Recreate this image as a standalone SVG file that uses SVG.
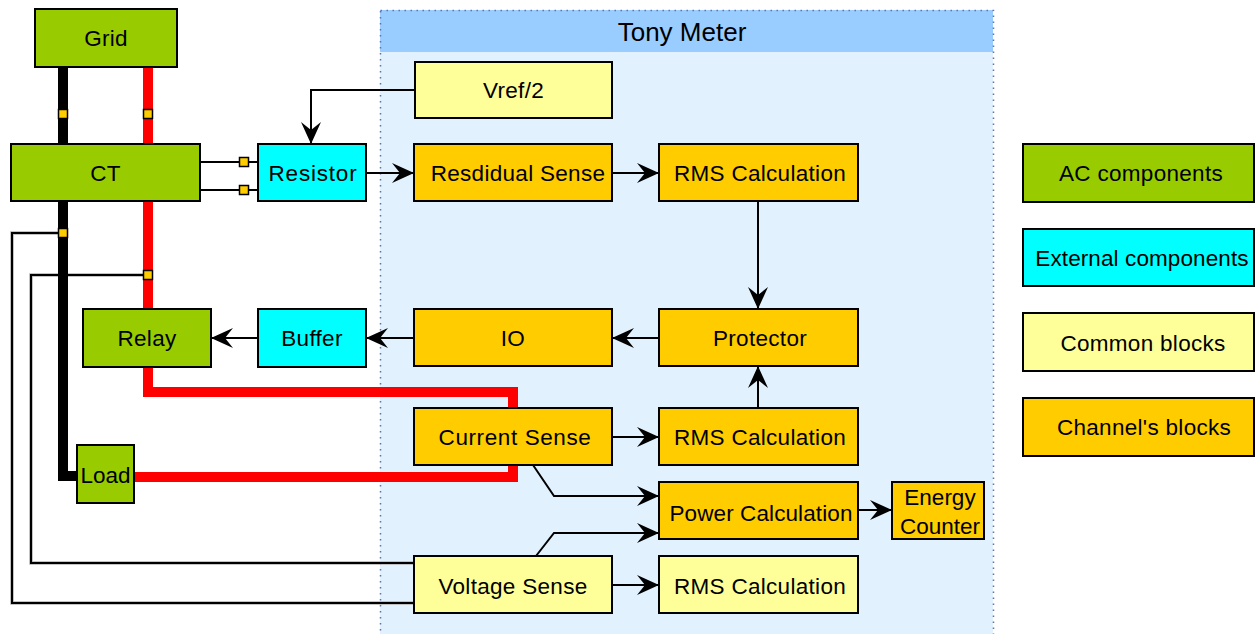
<svg xmlns="http://www.w3.org/2000/svg" width="1257" height="634" viewBox="0 0 1257 634">
<style>
text{font-family:"Liberation Sans",Arial,sans-serif;font-size:22.5px;fill:#000;text-anchor:middle;letter-spacing:0.3px}
.box{stroke:#000;stroke-width:2}
.ac{fill:#99CC00}.ext{fill:#00FFFF}.com{fill:#FFFF99}.ch{fill:#FFCC00}
.wire{fill:none;stroke-width:10;stroke-linejoin:miter;stroke-linecap:butt}
.blk{stroke:#000}.red{stroke:#FF0000}
.ln{fill:none;stroke:#000;stroke-width:2}
.arr{fill:none;stroke:#000;stroke-width:2;marker-end:url(#ah)}
.halo{fill:none;stroke:#b0b0b0;stroke-width:3.5}
.sq{fill:#FFCC00;stroke:#000;stroke-width:1.5}
</style>
<defs>
<marker id="ah" markerUnits="userSpaceOnUse" viewBox="-23 -11 25 22" markerWidth="25" markerHeight="22" refX="0" refY="0" orient="auto">
<path d="M0,0 L-22,-10 L-14,0 L-22,10 Z" fill="#000"/>
</marker>
</defs>

<g id="tony-meter">
<rect x="380" y="10" width="613" height="630" fill="#E1F1FD"/>
<rect x="380" y="10" width="613" height="42" fill="#99CCFF"/>
<rect x="380.5" y="10.5" width="613" height="630" fill="none" stroke="#6870A8" stroke-width="1.5" stroke-dasharray="1.5,4.5"/>
<text x="682" y="41" style="font-size:26px;letter-spacing:0">Tony Meter</text>
</g>

<g id="connectors">
<path class="halo" d="M59,233 H12 V603 H414"/>
<path class="ln" d="M59,233 H12 V603 H414"/>
<path class="halo" d="M143,275 H31 V563 H414"/>
<path class="ln" d="M143,275 H31 V563 H414"/>
<path class="wire blk" d="M63,67 V144"/>
<path class="wire blk" d="M63,201 V476 H77"/>
<path class="wire red" d="M148,67 V144"/>
<path class="wire red" d="M148,201 V309"/>
<path class="wire red" d="M148,367 V392 H513 V408"/>
<path class="wire red" d="M134,477 H513 V465"/>
<rect class="sq" x="58.5" y="109.5" width="9" height="9"/>
<rect class="sq" x="143.5" y="109.5" width="9" height="9"/>
<rect class="sq" x="58.5" y="228.5" width="9" height="9"/>
<rect class="sq" x="143.5" y="270.5" width="9" height="9"/>
<path class="ln" d="M200,162 H258"/>
<path class="ln" d="M200,190 H258"/>
<rect class="sq" x="239.5" y="157.5" width="9" height="9"/>
<rect class="sq" x="239.5" y="185.5" width="9" height="9"/>
<path class="arr" d="M415,90 H311 V144"/>
<path class="arr" d="M366,173 H414"/>
<path class="arr" d="M612,173 H659"/>
<path class="arr" d="M758,201 V309"/>
<path class="arr" d="M659,338 H612"/>
<path class="arr" d="M414,338 H366"/>
<path class="arr" d="M258,338 H211"/>
<path class="arr" d="M612,437 H659"/>
<path class="arr" d="M758,408 V366"/>
<path class="arr" d="M533,465 L554,496 H659"/>
<path class="arr" d="M536,556 L554,533 H659"/>
<path class="arr" d="M858,510 H892"/>
<path class="arr" d="M612,585 H659"/>
</g>

<g id="grid"><rect class="box ac" x="35" y="9" width="142" height="58"/><text x="106" y="46">Grid</text></g>
<g id="ct"><rect class="box ac" x="11" y="144" width="189" height="57"/><text x="105.5" y="180.5">CT</text></g>
<g id="resistor"><rect class="box ext" x="258" y="144" width="108" height="57"/><text x="313" y="180.5" style="letter-spacing:0.8px">Resistor</text></g>
<g id="relay"><rect class="box ac" x="83" y="309" width="128" height="58"/><text x="147" y="346">Relay</text></g>
<g id="buffer"><rect class="box ext" x="258" y="309" width="108" height="58"/><text x="312" y="346">Buffer</text></g>
<g id="load"><rect class="box ac" x="77" y="445" width="57" height="58"/><text x="105.5" y="483" style="letter-spacing:0">Load</text></g>

<g id="vref"><rect class="box com" x="415" y="62" width="197" height="56"/><text x="513.5" y="98">Vref/2</text></g>
<g id="residual-sense"><rect class="box ch" x="414" y="144" width="198" height="57"/><text x="518" y="180.5">Resdidual Sense</text></g>
<g id="rms1"><rect class="box ch" x="659" y="144" width="199" height="57"/><text x="760" y="180.5">RMS Calculation</text></g>
<g id="io"><rect class="box ch" x="414" y="309" width="198" height="57"/><text x="513" y="346">IO</text></g>
<g id="protector"><rect class="box ch" x="659" y="309" width="199" height="57"/><text x="760" y="346">Protector</text></g>
<g id="current-sense"><rect class="box ch" x="414" y="408" width="198" height="57"/><text x="515" y="445" style="letter-spacing:0.6px">Current Sense</text></g>
<g id="rms2"><rect class="box ch" x="659" y="408" width="199" height="57"/><text x="760" y="445">RMS Calculation</text></g>
<g id="power-calc"><rect class="box ch" x="659" y="482" width="199" height="57"/><text x="761" y="521" style="letter-spacing:0.1px">Power Calculation</text></g>
<g id="energy-counter"><rect class="box ch" x="892" y="482" width="92" height="57"/><text x="940" y="505" style="letter-spacing:0">Energy</text><text x="940" y="534" style="letter-spacing:0">Counter</text></g>
<g id="voltage-sense"><rect class="box com" x="414" y="556" width="198" height="57"/><text x="513" y="594">Voltage Sense</text></g>
<g id="rms3"><rect class="box com" x="659" y="556" width="199" height="57"/><text x="760" y="594">RMS Calculation</text></g>

<g id="legend-ac"><rect class="box ac" x="1023" y="144" width="231" height="58"/><text x="1141" y="181">AC components</text></g>
<g id="legend-ext"><rect class="box ext" x="1023" y="229" width="231" height="57"/><text x="1142" y="266" style="letter-spacing:0.1px">External components</text></g>
<g id="legend-common"><rect class="box com" x="1023" y="313" width="231" height="58"/><text x="1143" y="351">Common blocks</text></g>
<g id="legend-channel"><rect class="box ch" x="1023" y="398" width="231" height="58"/><text x="1144" y="435">Channel's blocks</text></g>
</svg>
